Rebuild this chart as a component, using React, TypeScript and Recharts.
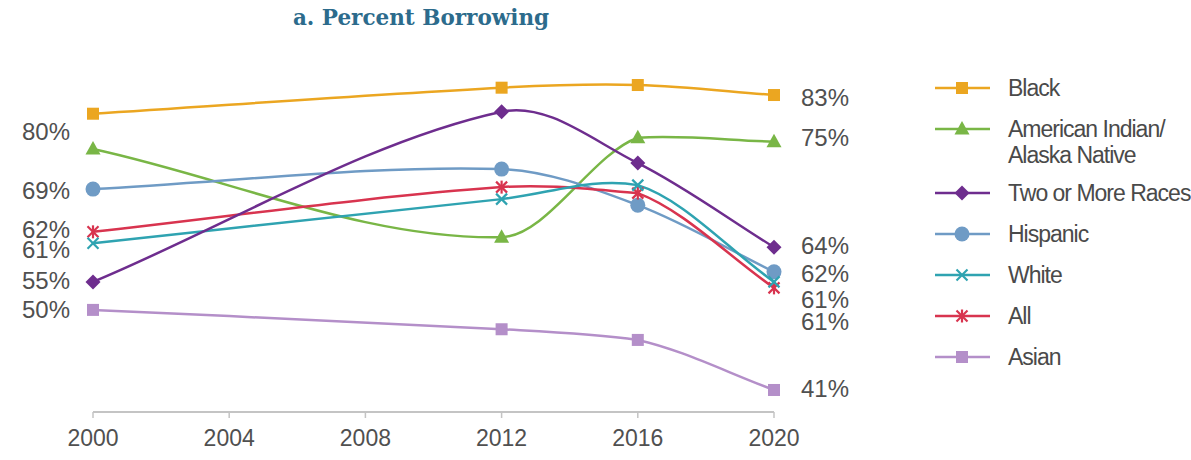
import React from 'react';
import { LineChart, Line, XAxis, YAxis } from 'recharts';

// ---- data ----
const years = [2000, 2012, 2016, 2020];
const xTicks = [2000, 2004, 2008, 2012, 2016, 2020];

const black = [82.7, 86.6, 87.0, 85.5];
const aian = [77.4, 64.2, 79.1, 78.5];
const twoOrMore = [57.5, 83.0, 75.3, 62.7];
const hispanic = [71.4, 74.4, 69.0, 59.0];
const white = [63.3, 69.9, 72.0, 57.5];
const all = [65.0, 71.7, 70.8, 56.6];
const asian = [53.3, 50.4, 48.8, 41.3];

// labels shown at the first (2000) and last (2020) point
const blackLabels = ['', '83%'];
const aianLabels = ['80%', '75%'];
const twoOrMoreLabels = ['55%', '64%'];
const hispanicLabels = ['69%', '62%'];
const whiteLabels = ['61%', '61%'];
const allLabels = ['62%', '61%'];
const asianLabels = ['50%', '41%'];

const FONT = "'Liberation Sans', Arial, sans-serif";
const TEXT_GRAY = '#505050';

type Shape = 'square' | 'triangle' | 'diamond' | 'circle' | 'x' | 'star';

interface Series {
  key: string;
  name: string[];
  color: string;
  shape: Shape;
  values: number[];
  labels: string[];
  dyStart: number;
  dyEnd: number;
}

const series: Series[] = [
  { key: 'black', name: ['Black'], color: '#EBA621', shape: 'square', values: black, labels: blackLabels, dyStart: 0, dyEnd: 2 },
  { key: 'aian', name: ['American Indian/', 'Alaska Native'], color: '#79B646', shape: 'triangle', values: aian, labels: aianLabels, dyStart: -18, dyEnd: -4 },
  { key: 'two', name: ['Two or More Races'], color: '#6E2D8E', shape: 'diamond', values: twoOrMore, labels: twoOrMoreLabels, dyStart: -2, dyEnd: -2 },
  { key: 'hispanic', name: ['Hispanic'], color: '#6F9BC5', shape: 'circle', values: hispanic, labels: hispanicLabels, dyStart: 1, dyEnd: 1 },
  { key: 'white', name: ['White'], color: '#2FA3B1', shape: 'x', values: white, labels: whiteLabels, dyStart: 6, dyEnd: 17 },
  { key: 'all', name: ['All'], color: '#D8344F', shape: 'star', values: all, labels: allLabels, dyStart: -2, dyEnd: 33 },
  { key: 'asian', name: ['Asian'], color: '#B48FC9', shape: 'square', values: asian, labels: asianLabels, dyStart: -1, dyEnd: -2 },
];

const drawOrder = ['asian', 'aian', 'hispanic', 'all', 'white', 'two', 'black'];

const table = years.map((year, i) => {
  const row: Record<string, number> = { year };
  series.forEach((s) => {
    row[s.key] = s.values[i];
  });
  return row;
});

function Marker({ shape, cx, cy, color }: { shape: Shape; cx: number; cy: number; color: string }) {
  switch (shape) {
    case 'square':
      return <rect x={cx - 6} y={cy - 6} width={12} height={12} fill={color} />;
    case 'triangle':
      return <polygon points={`${cx},${cy - 8} ${cx + 7.5},${cy + 5.5} ${cx - 7.5},${cy + 5.5}`} fill={color} />;
    case 'diamond':
      return <polygon points={`${cx},${cy - 7.5} ${cx + 7.5},${cy} ${cx},${cy + 7.5} ${cx - 7.5},${cy}`} fill={color} />;
    case 'circle':
      return <circle cx={cx} cy={cy} r={7.5} fill={color} />;
    case 'x':
      return (
        <g stroke={color} strokeWidth={2.2}>
          <line x1={cx - 5.5} y1={cy - 5.5} x2={cx + 5.5} y2={cy + 5.5} />
          <line x1={cx - 5.5} y1={cy + 5.5} x2={cx + 5.5} y2={cy - 5.5} />
        </g>
      );
    case 'star':
      return (
        <g stroke={color} strokeWidth={2.2}>
          <line x1={cx - 5.5} y1={cy - 5.5} x2={cx + 5.5} y2={cy + 5.5} />
          <line x1={cx - 5.5} y1={cy + 5.5} x2={cx + 5.5} y2={cy - 5.5} />
          <line x1={cx} y1={cy - 6.5} x2={cx} y2={cy + 6.5} />
        </g>
      );
  }
  return null;
}

// Smoothed line: cubic Hermite with finite-difference tangents (x-parametrised),
// control points limited so flat segments stay nearly flat.
function smoothCurve(context: any) {
  let pts: number[][] = [];
  const clamp = (c: number, a: number, b: number, lim: number) => {
    const dy = c - a;
    if (Math.abs(dy) > lim) return a + Math.sign(dy) * lim;
    return c;
  };
  return {
    areaStart() {},
    areaEnd() {},
    lineStart() {
      pts = [];
    },
    lineEnd() {
      const n = pts.length;
      if (!n) return;
      const slope = (i: number) => {
        const a = pts[Math.max(0, i - 1)];
        const b = pts[Math.min(n - 1, i + 1)];
        return b[0] === a[0] ? 0 : (b[1] - a[1]) / (b[0] - a[0]);
      };
      context.moveTo(pts[0][0], pts[0][1]);
      for (let i = 0; i < n - 1; i++) {
        const p1 = pts[i];
        const p2 = pts[i + 1];
        const h = p2[0] - p1[0];
        const lim = Math.max(Math.abs(p2[1] - p1[1]) * 0.6, 3);
        const c1x = p1[0] + h / 3;
        const c1y = clamp(p1[1] + (slope(i) * h) / 3, p1[1], p2[1], lim);
        const c2x = p2[0] - h / 3;
        const c2y = clamp(p2[1] - (slope(i + 1) * h) / 3, p2[1], p1[1], lim);
        context.bezierCurveTo(c1x, c1y, c2x, c2y, p2[0], p2[1]);
      }
    },
    point(x: number, y: number) {
      pts.push([+x, +y]);
    },
  };
}

function makeDot(s: Series) {
  return (props: any) => {
    const { cx, cy, index } = props;
    const last = years.length - 1;
    let label: React.ReactNode = null;
    if (index === 0 && s.labels[0]) {
      label = (
        <text x={cx - 23} y={cy + s.dyStart} dy="0.36em" textAnchor="end" fontFamily={FONT} fontSize={24} fill={TEXT_GRAY}>
          {s.labels[0]}
        </text>
      );
    } else if (index === last && s.labels[1]) {
      label = (
        <text x={cx + 27} y={cy + s.dyEnd} dy="0.36em" textAnchor="start" fontFamily={FONT} fontSize={24} fill={TEXT_GRAY}>
          {s.labels[1]}
        </text>
      );
    }
    return (
      <g key={`${s.key}-${index}`}>
        <Marker shape={s.shape} cx={cx} cy={cy} color={s.color} />
        {label}
      </g>
    );
  };
}

function LegendBlock() {
  return (
    <div style={{ position: 'absolute', left: 932, top: 75, width: 259 }}>
      {series.map((s) => (
        <div key={s.key} style={{ display: 'flex', alignItems: 'flex-start', marginBottom: s.name.length > 1 ? 12 : 15 }}>
          <svg width={60} height={26} style={{ flex: '0 0 auto' }}>
            <line x1={3} y1={13} x2={58} y2={13} stroke={s.color} strokeWidth={2.5} />
            <Marker shape={s.shape} cx={30} cy={13} color={s.color} />
          </svg>
          <div
            style={{
              marginLeft: 16,
              fontFamily: FONT,
              fontSize: 23,
              letterSpacing: '-1px',
              lineHeight: '26px',
              color: '#4a4a4a',
              whiteSpace: 'nowrap',
            }}
          >
            {s.name.map((line, i) => (
              <div key={i}>{line}</div>
            ))}
          </div>
        </div>
      ))}
    </div>
  );
}

export default function App() {
  const ordered = drawOrder.map((k) => series.find((s) => s.key === k)!);
  return (
    <div style={{ position: 'absolute', left: 0, top: 0, width: 1191, height: 460, background: '#ffffff', overflow: 'hidden' }}>
      <div
        style={{
          position: 'absolute',
          left: 221,
          width: 400,
          top: 5,
          textAlign: 'center',
          fontFamily: "'DejaVu Serif', serif",
          fontWeight: 'bold',
          fontSize: 21.5,
          color: '#2C6B8C',
        }}
      >
        a. Percent Borrowing
      </div>
      <LineChart width={1191} height={460} data={table} margin={{ top: 65, right: 417, bottom: 8, left: 93 }}>
        <XAxis
          dataKey="year"
          type="number"
          domain={[2000, 2020]}
          ticks={xTicks}
          height={40}
          axisLine={{ stroke: '#c4c4c4', strokeWidth: 2 }}
          tickLine={{ stroke: '#c4c4c4', strokeWidth: 1.5 }}
          tickSize={6}
          tickMargin={12}
          tick={{ fontFamily: FONT, fontSize: 23, fill: TEXT_GRAY }}
          interval={0}
        />
        <YAxis type="number" domain={[38, 90]} hide />
        {ordered.map((s) => (
          <Line
            key={s.key}
            dataKey={s.key}
            type={smoothCurve as any}
            stroke={s.color}
            strokeWidth={2.5}
            dot={makeDot(s)}
            activeDot={false}
            isAnimationActive={false}
          />
        ))}
      </LineChart>
      <LegendBlock />
    </div>
  );
}
